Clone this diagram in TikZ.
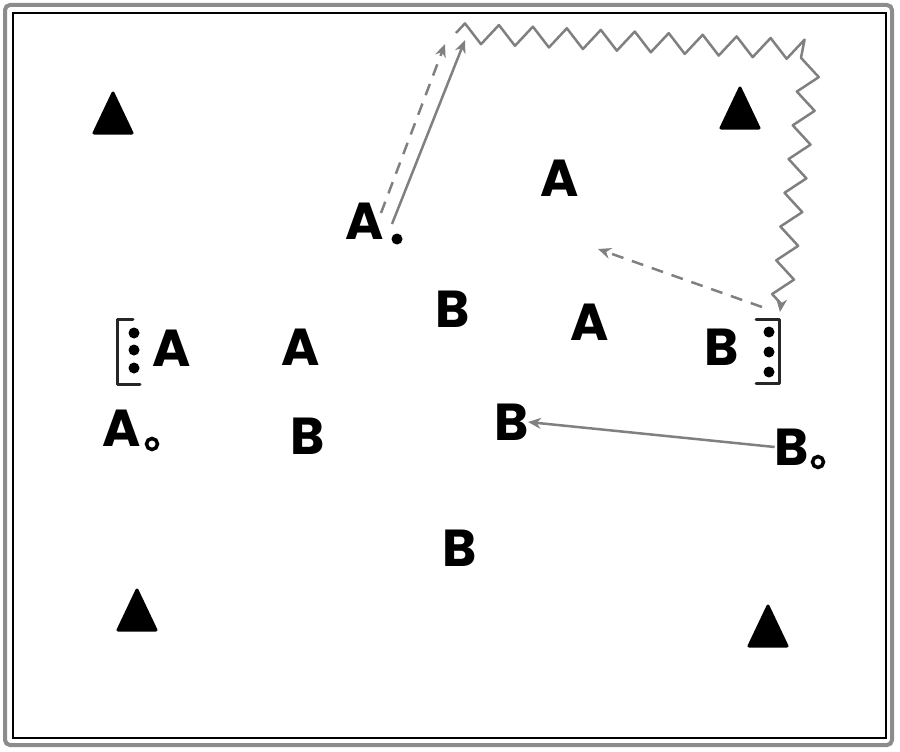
\documentclass[tikz,border=0pt]{standalone}
\usepackage{fontspec}
\setmainfont{Poppins}
\usetikzlibrary{arrows.meta,decorations.pathmorphing}
\begin{document}
\begin{tikzpicture}[x=1pt,y=-1pt,
  letter/.style={inner sep=0pt,font=\fontsize{52}{52}\selectfont\bfseries},
  tri/.style={fill=black,draw=black,line width=3pt,line join=round},
  blob/.style={circle,fill=black,inner sep=0pt,minimum size=11pt},
  ring/.style={circle,draw=black,line width=3.5pt,fill=white,inner sep=0pt,minimum size=11pt},
  brk/.style={draw=black!85,line width=3pt,line join=round,line cap=round},
  arr/.style={draw=black!50,line width=2.5pt,-{Stealth[length=13pt,width=11pt]}},
  darr/.style={arr,dash pattern=on 12pt off 9pt},
  zz/.style={draw=black!50,line width=2.5pt,line join=round,
    decoration={zigzag,segment length=34pt,amplitude=10pt,post length=8pt},decorate,
    -{Stealth[length=13pt,width=11pt]}}
]
\useasboundingbox (0,0) rectangle (900,752);
% frame
\draw[black!45,line width=4pt,rounded corners=5pt] (5,5) rectangle (892,745);
\draw[black,line width=1.5pt] (13,13) rectangle (886,738);
% triangles
\foreach \n/\x/\y in {t1/113/93,t2/740/88,t3/137/590,t4/768/606}{
  \filldraw[tri] (\x,\y) -- ++(19,40) -- ++(-38,0) -- cycle;
  \coordinate (\n) at (\x,\y);
}
% letters
\node[letter] (a1) at (365,221) {A};
\node[letter] (a2) at (560,178) {A};
\node[letter] (b1) at (453,309) {B};
\node[letter] (a3) at (590,322) {A};
\node[letter] (b2) at (722,347) {B};
\node[letter] (a4) at (172,348) {A};
\node[letter] (a5) at (301,347) {A};
\node[letter] (a6) at (122,428) {A};
\node[letter] (b3) at (308,436) {B};
\node[letter] (b4) at (512,422) {B};
\node[letter] (b5) at (792,447) {B};
\node[letter] (b6) at (460,548) {B};
% marks
\node[blob] (d1) at (397,239) {};
\node[ring] (r1) at (152,444) {};
\node[ring] (r2) at (818,462) {};
% left bracket
\draw[brk] (133,319) -- (117,319) -- (117,384) -- (140,384);
\node[blob] (l1) at (134,333) {};
\node[blob] (l2) at (134,350) {};
\node[blob] (l3) at (134,368) {};
% right bracket
\draw[brk] (756,319) -- (779,319) -- (779,383) -- (756,383);
\node[blob] (q1) at (769,332) {};
\node[blob] (q2) at (769,352) {};
\node[blob] (q3) at (769,372) {};
% arrow end points
\coordinate (s1) at (392,224);
\coordinate (e1) at (465,40);
\coordinate (s2) at (381,213);
\coordinate (e2) at (445,44);
\coordinate (z0) at (456,33);
\coordinate (z1) at (812,50);
\coordinate (z2) at (780,312);
\coordinate (s3) at (762,307);
\coordinate (e3) at (598,249);
\coordinate (e4) at (528,422);
% connectors
\draw[arr] (s1) -- (e1);
\draw[darr] (s2) -- (e2);
\draw[zz] (z0) -- (z1) -- (z2);
\draw[darr] (s3) -- (e3);
\draw[arr] (b5.west) -- (e4);
\end{tikzpicture}
\end{document}
